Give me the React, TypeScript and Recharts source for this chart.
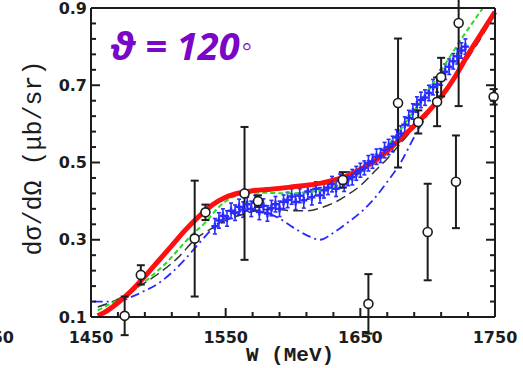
import React from "react";
import { ComposedChart, Line, Scatter, ErrorBar, XAxis, YAxis } from "recharts";

// energy ticks (minor every 20 MeV) and cross-section ticks (minor every 0.04)
const X_TICKS = [1450, 1470, 1490, 1510, 1530, 1550, 1570, 1590, 1610, 1630, 1650, 1670, 1690, 1710, 1730, 1750];
const X_MAJOR = [1450, 1550, 1650, 1750];
const Y_TICKS = [0.1, 0.14, 0.18, 0.22, 0.26, 0.3, 0.34, 0.38, 0.42, 0.46, 0.5, 0.54, 0.58, 0.62, 0.66, 0.7, 0.74, 0.78, 0.82, 0.86, 0.9];
const Y_MAJOR = [0.1, 0.3, 0.5, 0.7, 0.9];

// model curves
const RED_W = [1455, 1460, 1470, 1480, 1490, 1500, 1510, 1520, 1530, 1540, 1550, 1560, 1570, 1580, 1590, 1600, 1610, 1620, 1630, 1640, 1650, 1660, 1670, 1680, 1690, 1700, 1710, 1720, 1730, 1740, 1750];
const RED_V = [0.103, 0.112, 0.137, 0.168, 0.205, 0.245, 0.285, 0.325, 0.36, 0.39, 0.41, 0.421, 0.427, 0.43, 0.433, 0.437, 0.441, 0.446, 0.454, 0.465, 0.482, 0.502, 0.53, 0.562, 0.595, 0.63, 0.67, 0.72, 0.78, 0.835, 0.89];

const GREEN_W = [1455, 1465, 1475, 1485, 1495, 1505, 1515, 1525, 1535, 1545, 1555, 1565, 1575, 1585, 1595, 1605, 1615, 1625, 1635, 1645, 1655, 1665, 1675, 1685, 1695, 1705, 1715, 1725, 1735, 1741];
const GREEN_V = [0.117, 0.135, 0.152, 0.178, 0.206, 0.237, 0.275, 0.313, 0.345, 0.385, 0.41, 0.42, 0.422, 0.421, 0.42, 0.421, 0.425, 0.432, 0.443, 0.462, 0.488, 0.52, 0.563, 0.61, 0.66, 0.71, 0.765, 0.82, 0.87, 0.9];

const BLACK_W = [1455, 1470, 1485, 1500, 1515, 1527, 1540, 1550, 1560, 1570, 1580, 1590, 1600, 1610, 1620, 1630, 1640, 1650, 1660, 1670, 1680, 1690, 1700, 1710, 1720, 1730, 1740, 1750];
const BLACK_V = [0.126, 0.146, 0.178, 0.212, 0.255, 0.3, 0.33, 0.35, 0.363, 0.373, 0.378, 0.378, 0.375, 0.375, 0.382, 0.395, 0.415, 0.44, 0.475, 0.51, 0.55, 0.59, 0.625, 0.665, 0.715, 0.77, 0.825, 0.885];

const BLUE_W = [1452, 1470, 1480, 1490, 1500, 1510, 1520, 1530, 1540, 1550, 1560, 1570, 1580, 1590, 1600, 1610, 1620, 1630, 1640, 1650, 1660, 1670, 1680, 1690, 1700, 1710, 1720, 1730, 1740, 1750];
const BLUE_V = [0.14, 0.14, 0.152, 0.168, 0.187, 0.215, 0.25, 0.29, 0.328, 0.357, 0.372, 0.377, 0.37, 0.355, 0.332, 0.312, 0.3, 0.318, 0.343, 0.37, 0.405, 0.45, 0.5, 0.566, 0.625, 0.67, 0.72, 0.775, 0.83, 0.885];

// dense blue measurements
const DATA_W = [1542, 1545, 1548, 1551, 1554, 1557, 1560, 1563, 1566, 1569, 1572, 1575, 1578, 1581, 1584, 1587, 1590, 1593, 1596, 1599, 1602, 1605, 1608, 1611, 1614, 1617, 1620, 1623, 1626, 1629, 1632, 1635, 1638, 1641, 1644, 1647, 1650, 1653, 1656, 1659, 1662, 1665, 1668, 1671, 1674, 1677, 1680, 1683, 1686, 1689, 1692, 1695, 1698, 1701, 1704, 1707, 1710, 1713, 1716, 1719, 1722, 1725, 1728];
const DATA_V = [0.335, 0.35, 0.362, 0.355, 0.375, 0.37, 0.385, 0.378, 0.392, 0.38, 0.395, 0.372, 0.388, 0.368, 0.382, 0.392, 0.38, 0.398, 0.403, 0.412, 0.398, 0.414, 0.402, 0.425, 0.41, 0.432, 0.415, 0.428, 0.435, 0.444, 0.432, 0.452, 0.445, 0.458, 0.462, 0.472, 0.48, 0.486, 0.498, 0.503, 0.515, 0.518, 0.532, 0.54, 0.548, 0.565, 0.575, 0.598, 0.615, 0.632, 0.65, 0.662, 0.668, 0.68, 0.695, 0.702, 0.72, 0.735, 0.748, 0.762, 0.775, 0.79, 0.8];
const DATA_E = [0.02, 0.02, 0.018, 0.02, 0.02, 0.02, 0.02, 0.02, 0.018, 0.02, 0.02, 0.02, 0.018, 0.02, 0.02, 0.02, 0.02, 0.018, 0.02, 0.02, 0.02, 0.018, 0.02, 0.02, 0.02, 0.018, 0.02, 0.02, 0.018, 0.02, 0.02, 0.018, 0.02, 0.018, 0.02, 0.018, 0.018, 0.018, 0.02, 0.018, 0.02, 0.018, 0.02, 0.02, 0.02, 0.02, 0.02, 0.02, 0.02, 0.02, 0.02, 0.02, 0.02, 0.02, 0.02, 0.02, 0.02, 0.02, 0.02, 0.02, 0.02, 0.02, 0.02];

// older measurements (open circles)
const OLD_W = [1475, 1487, 1527, 1535, 1564, 1574, 1637, 1656, 1678, 1693, 1700, 1707, 1710, 1723, 1721, 1749];
const OLD_V = [0.103, 0.209, 0.303, 0.371, 0.42, 0.4, 0.455, 0.134, 0.654, 0.605, 0.32, 0.657, 0.721, 0.861, 0.45, 0.67];
const OLD_E = [0.05, 0.025, 0.15, 0.02, 0.172, 0.015, 0.02, 0.077, 0.167, 0.03, 0.125, 0.063, 0.05, 0.215, 0.12, 0.02];

const rows = (ws: number[], vs: number[], es?: number[]) =>
  ws.map((w, i) => ({ w, v: vs[i], e: es ? es[i] : 0 }));

const INK = "#1c1c1c";
const TICK_FONT = "'DejaVu Sans', sans-serif";
const isMajor = (list: number[], v: number) => list.some((m) => Math.abs(m - v) < 1e-6);

const LeftTick = (p: any) => {
  const { x, y, payload } = p;
  const edge = x + 4;
  const major = isMajor(Y_MAJOR, payload.value);
  return (
    <g>
      <line x1={edge} x2={edge + (major ? 9 : 5)} y1={y} y2={y} stroke={INK} strokeWidth={2} />
      {major && (
        <text x={x} y={y} textAnchor="end" dominantBaseline="central" fontFamily={TICK_FONT} fontWeight="bold" fontSize={16} fill={INK}>
          {payload.value.toFixed(1)}
        </text>
      )}
    </g>
  );
};

const RightTick = (p: any) => {
  const { x, y, payload } = p;
  const major = isMajor(Y_MAJOR, payload.value);
  return <line x1={x} x2={x - (major ? 9 : 5)} y1={y} y2={y} stroke={INK} strokeWidth={2} />;
};

const BottomTick = (p: any) => {
  const { x, y, payload } = p;
  const edge = y - 3;
  const major = isMajor(X_MAJOR, payload.value);
  return (
    <g>
      <line x1={x} x2={x} y1={edge} y2={edge - (major ? 9 : 5)} stroke={INK} strokeWidth={2} />
      {major && (
        <text x={x} y={edge + 20} textAnchor="middle" dominantBaseline="central" fontFamily={TICK_FONT} fontWeight="bold" fontSize={16} fill={INK}>
          {payload.value}
        </text>
      )}
    </g>
  );
};

const TopTick = (p: any) => {
  const { x, y, payload } = p;
  const major = isMajor(X_MAJOR, payload.value);
  return <line x1={x} x2={x} y1={y} y2={y + (major ? 9 : 5)} stroke={INK} strokeWidth={2} />;
};

const BlueMark = (p: any) => {
  const { cx, cy } = p;
  if (cx == null || cy == null) return <g />;
  return (
    <g stroke="#2a2aff" strokeWidth={2.4}>
      <line x1={cx - 3.5} x2={cx + 3.5} y1={cy} y2={cy} />
      <line x1={cx} x2={cx} y1={cy - 3.5} y2={cy + 3.5} />
    </g>
  );
};

const OpenCircle = (p: any) => {
  const { cx, cy } = p;
  if (cx == null || cy == null) return <g />;
  return <circle cx={cx} cy={cy} r={4.5} fill="#fff" stroke={INK} strokeWidth={1.6} />;
};

const Nothing = () => <g />;

export default function App() {
  const axisLine = { stroke: INK, strokeWidth: 2 };
  return (
    <div style={{ position: "absolute", left: 0, top: 0, width: 523, height: 368, background: "#fff" }}>
      <ComposedChart width={523} height={368} margin={{ top: 7, right: 27, bottom: 0, left: 0 }}>
        <XAxis dataKey="w" type="number" domain={[1450, 1750]} ticks={X_TICKS} interval={0} height={51}
          tickSize={0} tickMargin={3} axisLine={axisLine} tickLine={false} tick={BottomTick} />
        <XAxis xAxisId="top" orientation="top" type="number" domain={[1450, 1750]} allowDataOverflow ticks={X_TICKS}
          interval={0} height={1} tickSize={0} tickMargin={0} axisLine={axisLine} tickLine={false} tick={TopTick} />
        <YAxis type="number" domain={[0.1, 0.9]} allowDataOverflow ticks={Y_TICKS} interval={0} width={91}
          tickSize={0} tickMargin={4} axisLine={axisLine} tickLine={false} tick={LeftTick} />
        <YAxis yAxisId="right" orientation="right" type="number" domain={[0.1, 0.9]} allowDataOverflow ticks={Y_TICKS}
          interval={0} width={1} tickSize={0} tickMargin={0} axisLine={axisLine} tickLine={false} tick={RightTick} />
        <YAxis yAxisId="free" hide type="number" domain={[0.1, 0.9]} />

        <Scatter data={rows(DATA_W, DATA_V, DATA_E)} dataKey="v" shape={BlueMark} isAnimationActive={false}>
          <ErrorBar dataKey="e" direction="y" width={2} stroke="#2a2aff" strokeWidth={1.6} />
        </Scatter>

        <Line data={rows(BLUE_W, BLUE_V)} dataKey="v" type="monotone" stroke="#2a2aff" strokeWidth={1.8}
          strokeDasharray="9 4 2 4" dot={false} isAnimationActive={false} />
        <Line data={rows(BLACK_W, BLACK_V)} dataKey="v" type="monotone" stroke="#333" strokeWidth={1.5}
          strokeDasharray="10 5" dot={false} isAnimationActive={false} />
        <Line data={rows(GREEN_W, GREEN_V)} dataKey="v" type="monotone" stroke="#22dd22" strokeWidth={2}
          strokeDasharray="5 3" dot={false} isAnimationActive={false} />
        <Line data={rows(RED_W, RED_V)} dataKey="v" type="monotone" stroke="#ff1010" strokeWidth={5}
          dot={false} isAnimationActive={false} />

        <Scatter data={rows(OLD_W, OLD_V, OLD_E)} dataKey="v" shape={Nothing} isAnimationActive={false}>
          <ErrorBar dataKey="e" direction="y" width={4} stroke={INK} strokeWidth={2} />
        </Scatter>
        <Scatter yAxisId="free" data={rows(OLD_W, OLD_V)} dataKey="v" shape={OpenCircle} isAnimationActive={false} />
      </ComposedChart>

      <svg width={523} height={368} style={{ position: "absolute", left: 0, top: 0, pointerEvents: "none" }}>
        <text x={14} y={337} textAnchor="end" dominantBaseline="central" fontFamily={TICK_FONT} fontWeight="bold" fontSize={16} fill={INK}>
          1450
        </text>
        <text x={290} y={361} textAnchor="middle" fontFamily="'Liberation Mono', monospace" fontWeight="bold" fontSize={21} fill={INK}>
          W (MeV)
        </text>
        <text transform="translate(41,158) rotate(-90)" textAnchor="middle" fontFamily="'Liberation Mono', monospace" fontSize={25} fill={INK}>
          dσ/dΩ (μb/sr)
        </text>
        <text x={109} y={60} fontFamily="'Open Sans', sans-serif" fontWeight="bold" fontStyle="italic" fontSize={38} fill="#7a06c8">
          ϑ = 120<tspan fontStyle="normal" fontWeight="normal" fontSize={30} dx={2} dy={-4}>◦</tspan>
        </text>
      </svg>
    </div>
  );
}
